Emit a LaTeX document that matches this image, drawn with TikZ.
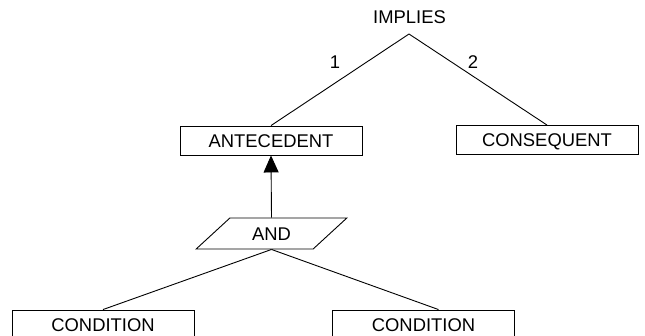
\documentclass[tikz,border=0pt]{standalone}
\usepackage{fontspec}
\setmainfont{Liberation Sans}
\usetikzlibrary{shapes.geometric,arrows.meta}

\begin{document}
\begin{tikzpicture}[x=1pt, y=-1pt, line width=0.9pt,
  every node/.style={font=\fontsize{18.4}{22}\selectfont},
  box/.style={draw, rectangle, minimum width=182pt, minimum height=29pt, inner sep=0pt, text height=13.2pt, text depth=0pt},
  slant/.style={draw, trapezium, trapezium left angle=40, trapezium right angle=140, trapezium stretches=true, minimum width=151pt, minimum height=31pt, inner sep=0pt, text height=13.2pt, text depth=0pt}]
			\useasboundingbox (0,0) rectangle (645,335);
			\node (implies) at (409.5,17){IMPLIES};
			\coordinate (apex) at (409,34);
			\node[box] (ante) at (271,140.5){ANTECEDENT};
			\node[box] (cons) at (547,140){CONSEQUENT};
			\node[slant] (and) at (271.5,233.5){AND};
			\node[box] (condl) at (103,324.5){CONDITION};
			\node[box] (condr) at (423.5,324.5){CONDITION};
			\node (one) at (335,62){1};
			\node (two) at (473,62){2};
			
			\draw (apex) -- (ante.north);
			\draw (apex) -- (cons.north);
			\draw[-{Triangle[length=17pt,width=15pt]}] (and.north) -- (ante.south);
			\draw (and.south) -- (condl.north);
			\draw (and.south) -- ([xshift=15pt]condr.north);
			\end{tikzpicture}
\end{document}
